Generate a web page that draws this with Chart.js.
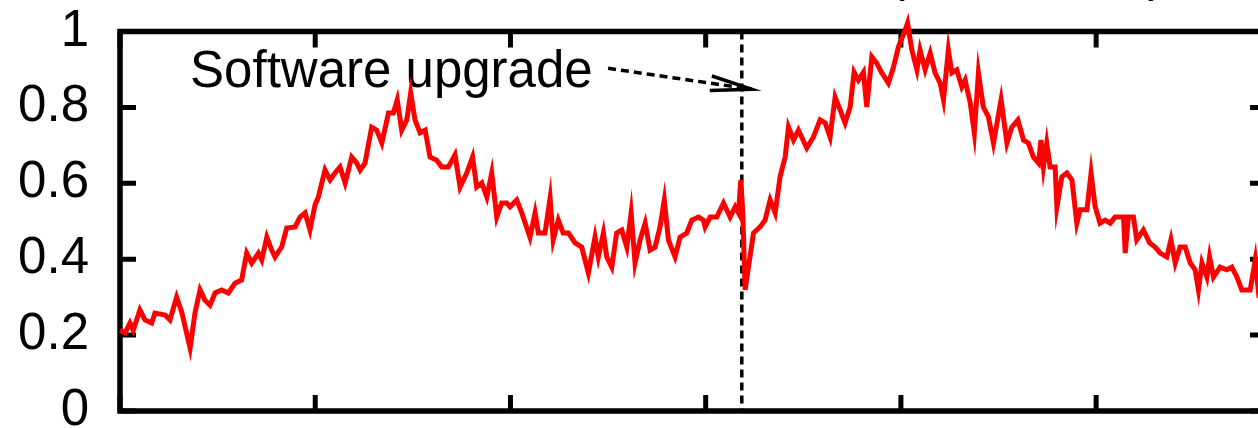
<!DOCTYPE html>
<html>
<head>
<meta charset="utf-8">
<script src="https://cdn.jsdelivr.net/npm/chart.js@4.4.1/dist/chart.umd.min.js"></script>
<style>
  html, body { margin: 0; padding: 0; background: #fff; overflow: hidden; width: 1258px; height: 428px; }
  #wrap { width: 1300px; height: 428px; }
</style>
</head>
<body>
<div id="wrap"><canvas id="c" width="1300" height="428"></canvas></div>
<script>
// Time axis samples (same units as the x tick values)
const xValues = [
  0, 2.6, 5.1, 6.8, 10.2, 12.8, 16.2, 17.9, 23.1, 25.6, 29.0, 31.6, 35.9, 38.4, 41.0, 43.5, 46.1, 48.7,
  52.1, 55.5, 58.9, 62.3, 64.9, 67.5, 70.9, 72.6, 75.2, 77.7, 79.4, 82.8, 85.4, 89.7, 92.2, 94.8, 97.3,
  99.9, 101.6, 105.0, 107.6, 110.1, 112.7, 115.3, 118.7, 121.3, 123.0, 125.5, 128.9, 131.5, 134.1, 137.5,
  140.0, 142.0, 144.3, 146.9, 148.9, 151.1, 153.7, 156.3, 158.8, 162.2, 164.8, 168.2, 171.6, 174.2, 177.6,
  180.6, 182.7, 185.3, 187.9, 190.4, 193.0, 195.5, 198.1, 199.8, 203.2, 205.8, 210.0, 212.6, 214.3, 217.7,
  220.3, 221.9, 224.5, 227.0, 229.7, 233.1, 236.5, 239.9, 243.3, 245.0, 247.6, 249.3, 251.9, 254.4, 257.0,
  259.6, 261.8, 263.8, 266.4, 269.0, 271.5, 274.1, 276.6, 278.8, 280.9, 284.3, 286.9, 290.3, 292.9, 296.3,
  298.8, 299.7, 302.3, 305.7, 309.1, 312.5, 315.1, 316.8, 318.0, 319.0, 320.2, 321.9, 324.5, 327.9, 330.4,
  333.0, 335.6, 338.1, 340.7, 342.4, 345.0, 347.5, 351.8, 355.2, 358.6, 361.2, 363.7, 366.3, 368.9, 371.4,
  374.0, 376.0, 378.2, 380.8, 382.5, 385.1, 387.6, 390.2, 393.6, 396.2, 398.7, 402.2, 403.4, 405.6, 408.2,
  409.8, 412.4, 415.0, 417.5, 420.1, 421.8, 424.3, 426.1, 428.6, 431.2, 432.9, 435.5, 437.6, 439.7, 442.2,
  444.8, 447.4, 451.3, 454.3, 456.8, 459.9, 462.8, 465.3, 467.9, 470.5, 471.7, 473.0, 474.7, 476.4, 479.0,
  479.9, 482.4, 485.0, 487.6, 490.1, 491.8, 495.3, 497.4, 499.5, 502.0, 504.6, 507.2, 509.7, 514.0, 514.9,
  516.5, 519.1, 520.8, 524.2, 527.4, 530.2, 532.8, 536.2, 538.3, 540.5, 543.0, 545.6, 548.2, 550.7, 552.4,
  554.2, 556.7, 558.1, 560.1, 563.5, 566.9, 569.5, 572.1, 574.6, 578.9, 581.5, 583.2, 587.0
];

// Normalised load at each sample
const yValues = [
  0.213, 0.206, 0.232, 0.213, 0.266, 0.240, 0.232, 0.258, 0.253, 0.240, 0.300, 0.261, 0.166, 0.258, 0.319, 0.292, 0.279, 0.311,
  0.319, 0.311, 0.337, 0.345, 0.416, 0.390, 0.416, 0.398, 0.458, 0.424, 0.406, 0.432, 0.482, 0.485, 0.511, 0.522, 0.477,
  0.543, 0.564, 0.635, 0.609, 0.627, 0.643, 0.601, 0.669, 0.653, 0.635, 0.653, 0.748, 0.740, 0.706, 0.785,
  0.785, 0.820, 0.740, 0.767, 0.838, 0.767, 0.733, 0.740, 0.669, 0.661, 0.643, 0.643, 0.675, 0.590, 0.627,
  0.669, 0.590, 0.601, 0.564, 0.627, 0.511, 0.548, 0.548, 0.538, 0.556, 0.522, 0.458, 0.522, 0.469, 0.469,
  0.561, 0.451, 0.503, 0.469, 0.469, 0.443, 0.432, 0.364, 0.458, 0.406, 0.469, 0.406, 0.379, 0.469, 0.477,
  0.432, 0.522, 0.390, 0.451, 0.495, 0.424, 0.432, 0.485, 0.556, 0.451, 0.406, 0.458, 0.469, 0.503, 0.511,
  0.503, 0.485, 0.511, 0.511, 0.548, 0.511, 0.538, 0.522, 0.609, 0.522, 0.319, 0.379, 0.469, 0.485, 0.503,
  0.556, 0.522, 0.617, 0.669, 0.748, 0.714, 0.740, 0.693, 0.722, 0.767, 0.759, 0.722, 0.827, 0.793, 0.759,
  0.801, 0.893, 0.872, 0.893, 0.801, 0.933, 0.917, 0.891, 0.864, 0.906, 0.959, 1.004, 1.022, 0.951, 0.899,
  0.951, 0.899, 0.943, 0.891, 0.864, 0.820, 0.951, 0.891, 0.899, 0.854, 0.872, 0.812, 0.733, 0.891, 0.801,
  0.775, 0.706, 0.820, 0.706, 0.748, 0.767, 0.714, 0.706, 0.669, 0.653, 0.714, 0.643, 0.706, 0.643, 0.643,
  0.538, 0.617, 0.627, 0.609, 0.495, 0.530, 0.530, 0.627, 0.538, 0.495, 0.503, 0.495, 0.511, 0.511, 0.416,
  0.511, 0.511, 0.451, 0.477, 0.443, 0.432, 0.416, 0.406, 0.451, 0.390, 0.432, 0.432, 0.390, 0.372, 0.319,
  0.390, 0.353, 0.406, 0.353, 0.379, 0.372, 0.379, 0.353, 0.319, 0.319, 0.398, 0.311, 0.332
];

const xTickValues = [0, 100, 200, 300, 400, 500];
const yTickValues = [0, 0.2, 0.4, 0.6, 0.8, 1];
const yTickLabels = ['0', '0.2', '0.4', '0.6', '0.8', '1'];

// Event marker and its annotation
const upgradeAt = 318.5;
const upgradeText = 'Software upgrade';
const upgradeTextAt = { x: 35.9, y: 0.854 };
const arrowFrom = { x: 250, y: 0.903 };
const arrowTo = { x: 323.6, y: 0.848 };

const X_MAX = 587;
const FONT = '"Liberation Sans", Arial, Helvetica, sans-serif';

// Gnuplot-style border with inward ticks, the dashed event line and the labelled arrow
const decorations = {
  id: 'decorations',
  beforeDatasetsDraw(chart) {
    const { ctx, chartArea: a, scales } = chart;
    const xs = scales.x, ys = scales.y;
    const tick = 16;
    ctx.save();
    ctx.strokeStyle = '#000';
    ctx.lineWidth = 5.5;
    ctx.lineCap = 'butt';
    ctx.strokeRect(a.left, a.top, a.right - a.left, a.bottom - a.top);

    ctx.lineWidth = 5;
    ctx.beginPath();
    xTickValues.forEach(v => {
      const px = xs.getPixelForValue(v);
      ctx.moveTo(px, a.bottom); ctx.lineTo(px, a.bottom - tick);
      ctx.moveTo(px, a.top); ctx.lineTo(px, a.top + tick);
    });
    yTickValues.forEach(v => {
      const py = ys.getPixelForValue(v);
      ctx.moveTo(a.left, py); ctx.lineTo(a.left + tick, py);
      ctx.moveTo(a.right, py); ctx.lineTo(a.right - tick, py);
    });
    ctx.stroke();

    // dashed vertical line at the upgrade
    const ux = xs.getPixelForValue(upgradeAt);
    ctx.lineWidth = 3.5;
    ctx.setLineDash([8, 5]);
    ctx.beginPath();
    ctx.moveTo(ux, a.top);
    ctx.lineTo(ux, a.bottom);
    ctx.stroke();

    // dashed arrow shaft
    const x0 = xs.getPixelForValue(arrowFrom.x), y0 = ys.getPixelForValue(arrowFrom.y);
    const x1 = xs.getPixelForValue(arrowTo.x), y1 = ys.getPixelForValue(arrowTo.y);
    ctx.beginPath();
    ctx.moveTo(x0, y0);
    ctx.lineTo(x1, y1);
    ctx.stroke();

    // open arrowhead
    ctx.setLineDash([]);
    const ang = Math.atan2(y1 - y0, x1 - x0);
    const len = 42, spread = 10 * Math.PI / 180;
    ctx.beginPath();
    ctx.moveTo(x1 - len * Math.cos(ang - spread), y1 - len * Math.sin(ang - spread));
    ctx.lineTo(x1, y1);
    ctx.lineTo(x1 - len * Math.cos(ang + spread), y1 - len * Math.sin(ang + spread));
    ctx.stroke();

    // annotation text
    ctx.fillStyle = '#000';
    ctx.font = '51px ' + FONT;
    ctx.textAlign = 'left';
    ctx.textBaseline = 'alphabetic';
    ctx.fillText(upgradeText, xs.getPixelForValue(upgradeTextAt.x), ys.getPixelForValue(upgradeTextAt.y));

    // tails of the title's brackets above the frame
    ctx.fillText('(', 888, -10);
    ctx.fillText(')', 1148, -10);
    ctx.restore();
  }
};

const points = xValues.map((x, i) => ({ x, y: yValues[i] }));

new Chart(document.getElementById('c'), {
  type: 'line',
  data: {
    datasets: [{
      data: points,
      borderColor: '#ff0000',
      borderWidth: 5,
      borderJoinStyle: 'miter',
      pointRadius: 0,
      tension: 0,
      fill: false,
      clip: false
    }]
  },
  options: {
    responsive: false,
    animation: false,
    devicePixelRatio: 1,
    layout: { padding: { left: 0, top: 31.5, right: 34, bottom: 17 } },
    plugins: { legend: { display: false }, tooltip: { enabled: false } },
    scales: {
      x: { type: 'linear', min: 0, max: X_MAX, display: false },
      y: {
        type: 'linear',
        min: 0,
        max: 1,
        afterFit(scale) {
          scale.width = 120;
          scale.paddingTop = 0;
          scale.paddingBottom = 0;
        },
        afterBuildTicks(scale) { scale.ticks = yTickValues.map(v => ({ value: v })); },
        grid: { display: false, drawTicks: false },
        border: { display: false },
        ticks: {
          padding: 31,
          color: '#000',
          font: { family: FONT, size: 51 },
          autoSkip: false,
          callback: (v, i) => yTickLabels[i]
        }
      }
    }
  },
  plugins: [decorations]
});
</script>
</body>
</html>
